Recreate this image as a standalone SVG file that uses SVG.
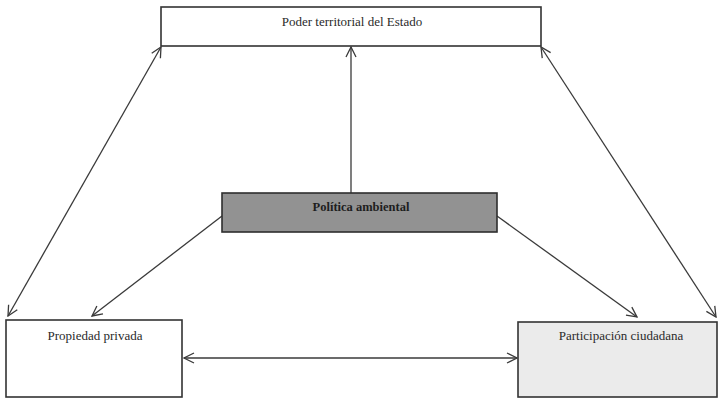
<svg xmlns="http://www.w3.org/2000/svg" width="718" height="399" viewBox="0 0 718 399">
<style>
.box{fill:#ffffff;stroke:#333333;stroke-width:1.6}
.mid{fill:#929292;stroke:#2e2e2e;stroke-width:1.6}
.lbl{font-family:"Liberation Serif","Times New Roman",serif;font-size:13px;fill:#2a2a2a;text-anchor:middle}
.bold{font-weight:bold;font-size:12.5px;fill:#1e1e1e}
.con{stroke:#3a3a3a;stroke-width:1.3;fill:none;marker-end:url(#ah)}
.both{marker-start:url(#ah)}
</style>
<defs>
<marker id="ah" viewBox="0 0 12 12" refX="11" refY="6" markerWidth="12" markerHeight="12" markerUnits="userSpaceOnUse" orient="auto-start-reverse">
<path d="M1,1 L11,6 L1,11" fill="none" stroke="#3a3a3a" stroke-width="1.3"/>
</marker>
</defs>
<rect width="718" height="399" fill="#ffffff"/>
<g id="connectors">
<line class="con" x1="351" y1="193" x2="351" y2="47"/>
<line class="con both" x1="161" y1="47" x2="8" y2="316"/>
<line class="con both" x1="541" y1="47" x2="716" y2="317"/>
<line class="con" x1="222" y1="216" x2="92" y2="316"/>
<line class="con" x1="497" y1="216" x2="637" y2="317"/>
<line class="con both" x1="184" y1="358" x2="517" y2="358"/>
</g>
<g id="poder">
<rect class="box" x="161" y="7" width="380" height="39"/>
<text class="lbl" x="352" y="26">Poder territorial del Estado</text>
</g>
<g id="politica">
<rect class="mid" x="222" y="193" width="275" height="39"/>
<text class="lbl bold" x="361" y="211">Política ambiental</text>
</g>
<g id="propiedad">
<rect class="box" x="6" y="320" width="176" height="77"/>
<text class="lbl" x="95" y="340">Propiedad privada</text>
</g>
<g id="participacion">
<rect class="box" x="518" y="322" width="199" height="75" style="fill:#ebebeb"/>
<text class="lbl" x="621" y="340">Participación ciudadana</text>
</g>
</svg>
